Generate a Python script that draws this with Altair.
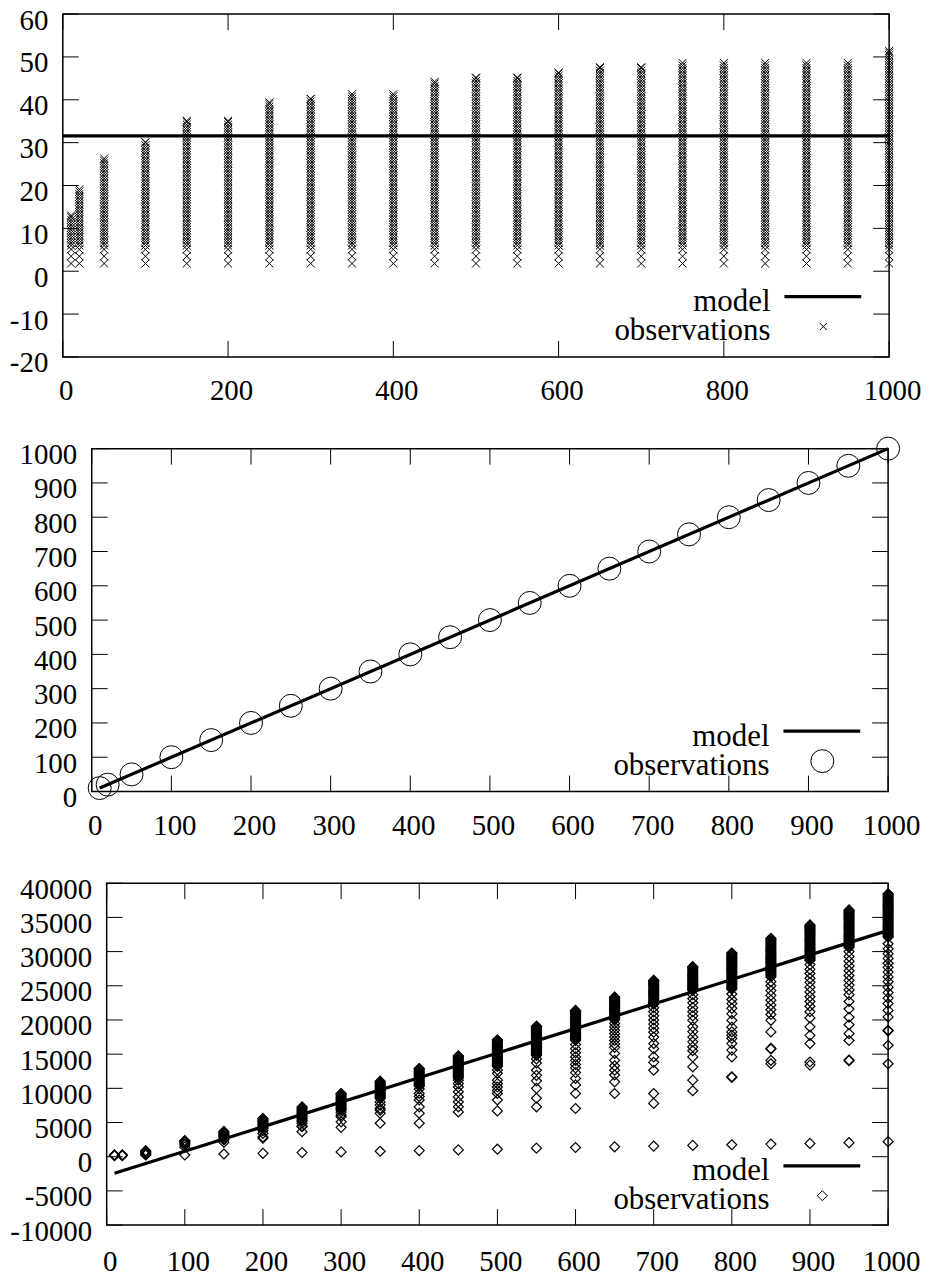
import altair as alt
import numpy as np
import pandas as pd

FONT = "Liberation Serif"
FS = 29          # tick labels
LFS = 31         # legend labels

# ---------------- shared x positions of the observation columns
x_levels = [10, 20, 50, 100, 150, 200, 250, 300, 350, 400, 450, 500,
            550, 600, 650, 700, 750, 800, 850, 900, 950, 1000]

# ---------------- panel 1 (crosses)
p1_top = [13.0, 19.1, 26.3, 30.1, 35.1, 35.1, 39.4, 40.2, 41.3, 41.3, 44.2,
          45.2, 45.2, 46.3, 47.6, 47.6, 48.6, 48.6, 48.6, 48.6, 48.6, 51.4]
p1_low = [1.8, 3.5, 5.1]          # isolated crosses at the foot of each column
p1_band_start = 6.0               # dense stack of crosses from here to the top
p1_band_step = 0.6
p1_model_x = [0, 1000]
p1_model_y = [31.6, 31.6]
p1_xticks = [0, 200, 400, 600, 800, 1000]
p1_yticks = [-20, -10, 0, 10, 20, 30, 40, 50, 60]

# ---------------- panel 2 (circles)
p2_y = [10, 20, 50, 100, 150, 200, 250, 300, 350, 400, 450, 500,
        550, 600, 650, 700, 750, 800, 850, 900, 950, 1000]
p2_model_x = [10, 1000]
p2_model_y = [10, 1000]
p2_xticks = [0, 100, 200, 300, 400, 500, 600, 700, 800, 900, 1000]
p2_yticks = [0, 100, 200, 300, 400, 500, 600, 700, 800, 900, 1000]

# ---------------- panel 3 (diamonds)
p3_band_lo = [0, 0, 300, 1700, 2800, 4100, 5200, 6800, 8500, 10300, 11500,
              13200, 14800, 17000, 20000, 22300, 24300, 24500, 26300, 28700, 30600, 32100]
p3_band_hi = [0, 0, 880, 2350, 3700, 5600, 7300, 9250, 11050, 12900, 14750,
              17100, 19100, 21400, 23350, 25800, 27800, 29800, 31950, 33900, 36100, 38450]
p3_band_step = 150
p3_sparse = [
    [150, 220, 280],
    [150, 220, 280],
    [250],
    [1400, 250],
    [2600, 2450, 2100, 400],
    [3800, 3400, 2900, 2700, 500],
    [4900, 4500, 4400, 3650, 600],
    [6500, 6100, 5850, 5100, 4300, 700],
    [8000, 7550, 7050, 6800, 6350, 4900, 800],
    [9900, 9250, 8800, 8300, 7300, 6350, 4900, 900],
    [11200, 10700, 10200, 9500, 8750, 8000, 7300, 6550, 1000],
    [12700, 12200, 11200, 10700, 10200, 9700, 9250, 8300, 6700, 1100],
    [14300, 13700, 12650, 11900, 11100, 10000, 8550, 7300, 1250],
    [16400, 15800, 15200, 14600, 14100, 13500, 13000, 12300, 11450, 10500, 9250, 7050, 1350],
    [19500, 19000, 18500, 18000, 17500, 17000, 16500, 16000, 15100, 14100, 13300, 12650,
     11950, 10950, 9250, 1450],
    [21800, 21200, 20600, 20000, 19400, 18800, 18200, 17500, 16550, 15800, 14600, 13800,
     12650, 9250, 7800, 1550],
    [23700, 23100, 22500, 21800, 21200, 20600, 19950, 19000, 18300, 17500, 16800, 16050,
     15500, 14600, 13150, 11200, 9650, 1650],
    [23800, 23000, 22400, 21700, 20900, 19950, 18950, 18250, 17750, 17300, 16550, 15600,
     14600, 11700, 11600, 1750],
    [25600, 25000, 24300, 23600, 22900, 22200, 21500, 20800, 19950, 18250, 15850, 15750,
     14100, 13600, 1850],
    [28100, 27400, 26800, 26100, 25500, 24800, 24100, 23400, 22700, 22000, 21200, 20300,
     19000, 17750, 16550, 13850, 13400, 1950],
    [30000, 29300, 28600, 27900, 27200, 26500, 25800, 25100, 24400, 23700, 22700, 21600,
     20400, 19300, 18000, 17000, 14150, 14050, 2050],
    [31150, 30400, 29700, 29000, 28300, 27700, 27000, 26300, 25600, 24800, 24000, 23200,
     22400, 21400, 20450, 18500, 18400, 16300, 13600, 2200],
]
p3_model_x = [10, 1000]
p3_model_y = [-2420, 33100]
p3_xticks = [0, 100, 200, 300, 400, 500, 600, 700, 800, 900, 1000]
p3_yticks = [-10000, -5000, 0, 5000, 10000, 15000, 20000, 25000, 30000, 35000, 40000]

legend_labels = ["model", "observations"]

# ---------------- tables
rows = []
for x, top in zip(x_levels, p1_top):
    for v in p1_low:
        rows.append((x, v))
    for v in np.arange(p1_band_start, top, p1_band_step):
        rows.append((x, float(v)))
    rows.append((x, top))
obs1 = pd.DataFrame(rows, columns=["x", "y"])
obs2 = pd.DataFrame({"x": x_levels, "y": p2_y})
rows = []
for x, lo, hi, sp in zip(x_levels, p3_band_lo, p3_band_hi, p3_sparse):
    if hi > 0:
        for v in np.arange(lo, hi, p3_band_step):
            rows.append((x, float(v)))
        rows.append((x, hi))
    for v in sp:
        rows.append((x, v))
obs3 = pd.DataFrame(rows, columns=["x", "y"])

CROSS = "M-1,-1L1,1M-1,1L1,-1"
LABEL_EXPR = "'' + datum.value"


def panel(obs, mx, my, xdom, ydom, xticks, yticks, W, H, shape, size, leg_size, xpad, sw,
          top_room=0):
    xs = alt.Scale(domain=xdom, nice=False, zero=False)
    ys = alt.Scale(domain=ydom, nice=False, zero=False)
    xax = alt.Axis(values=xticks, ticks=False, domain=False, grid=False, title=None,
                   labelFont=FONT, labelFontSize=FS, labelColor="black",
                   labelPadding=xpad, labelFlush=False, labelOverlap=False,
                   labelExpr=LABEL_EXPR, labelOffset=3)
    yax = alt.Axis(values=yticks, ticks=False, domain=False, grid=False, title=None,
                   labelFont=FONT, labelFontSize=FS, labelColor="black",
                   labelPadding=15, labelFlush=False, labelOverlap=False,
                   labelExpr=LABEL_EXPR, labelOffset=6)
    X = lambda f: alt.X(f, scale=xs, axis=xax)
    Y = lambda f: alt.Y(f, scale=ys, axis=yax)

    pts = alt.Chart(obs).mark_point(shape=shape, filled=False, color="black", size=size,
                                     strokeWidth=sw, opacity=1).encode(x=X("x:Q"), y=Y("y:Q"))
    model = alt.Chart(pd.DataFrame({"x": mx, "y": my})).mark_line(
        color="black", strokeWidth=3.2).encode(x=X("x:Q"), y=Y("y:Q"))

    xt = pd.DataFrame({"t": xticks})
    yt = pd.DataFrame({"t": yticks})
    rule = dict(color="black", strokeWidth=1)
    t_top = alt.Chart(xt).mark_rule(**rule).encode(x=X("t:Q"), y=alt.value(0), y2=alt.value(16))
    t_bot = alt.Chart(xt).mark_rule(**rule).encode(x=X("t:Q"), y=alt.value(H), y2=alt.value(H - 16))
    t_left = alt.Chart(yt).mark_rule(**rule).encode(y=Y("t:Q"), x=alt.value(0), x2=alt.value(16))
    t_right = alt.Chart(yt).mark_rule(**rule).encode(y=Y("t:Q"), x=alt.value(W - 16), x2=alt.value(W))

    lg = pd.DataFrame({"label": legend_labels})
    txt_model = alt.Chart(lg.iloc[[0]]).mark_text(
        align="right", baseline="alphabetic", font=FONT, fontSize=LFS, color="black").encode(
        text="label:N", x=alt.value(W - 119), y=alt.value(298))
    txt_obs = alt.Chart(lg.iloc[[1]]).mark_text(
        align="right", baseline="alphabetic", font=FONT, fontSize=LFS, color="black").encode(
        text="label:N", x=alt.value(W - 119), y=alt.value(327))
    leg_line = alt.Chart(lg.iloc[[0]]).mark_rule(color="black", strokeWidth=3.2).encode(
        x=alt.value(W - 105), x2=alt.value(W - 28), y=alt.value(283.5))
    leg_pt = alt.Chart(lg.iloc[[1]]).mark_point(shape=shape, filled=False, color="black",
                                                 size=leg_size, strokeWidth=1, opacity=1).encode(
        x=alt.value(W - 66), y=alt.value(313.5))

    layers = [pts, model, t_top, t_bot, t_left, t_right, txt_model, txt_obs, leg_line, leg_pt]
    if top_room:
        # invisible spacer keeping the same room above the frame as the panel with circles
        layers.append(alt.Chart(lg.iloc[[0]]).mark_rule(opacity=0).encode(
            x=alt.value(0), y=alt.value(-top_room), y2=alt.value(0)))
    return alt.layer(*layers).properties(width=W, height=H)


p1 = panel(obs1, p1_model_x, p1_model_y, [0, 1000], [-20, 60], p1_xticks, p1_yticks,
           829, 344, CROSS, 64, 49, 20, 1)
p2 = panel(obs2, p2_model_x, p2_model_y, [0, 1000], [0, 1000], p2_xticks, p2_yticks,
           799, 344, "circle", 531, 531, 20, 1)
p3 = panel(obs3, p3_model_x, p3_model_y, [0, 1000], [-10000, 40000], p3_xticks, p3_yticks,
           784, 343, "diamond", 100, 100, 23, 1.2, top_room=14)


def spacer(w, h):
    return alt.Chart(pd.DataFrame({"a": [0]})).mark_point(opacity=0).encode(
        x=alt.value(0), y=alt.value(0)).properties(
        width=w, height=h, view=alt.ViewBackground(stroke=None))


row2 = alt.hconcat(spacer(29, 344), p2, spacing=0, bounds="flush")
row3 = alt.hconcat(spacer(44, 343), p3, spacing=0, bounds="flush")

chart = alt.vconcat(p1, row2, row3, spacing=27).properties(
    padding={"left": 0, "top": -5, "right": 0, "bottom": 0},
    background="white",
).configure_view(stroke="black", strokeWidth=1.5)

chart.save("out.html", embed_options={"renderer": "svg", "actions": False})
